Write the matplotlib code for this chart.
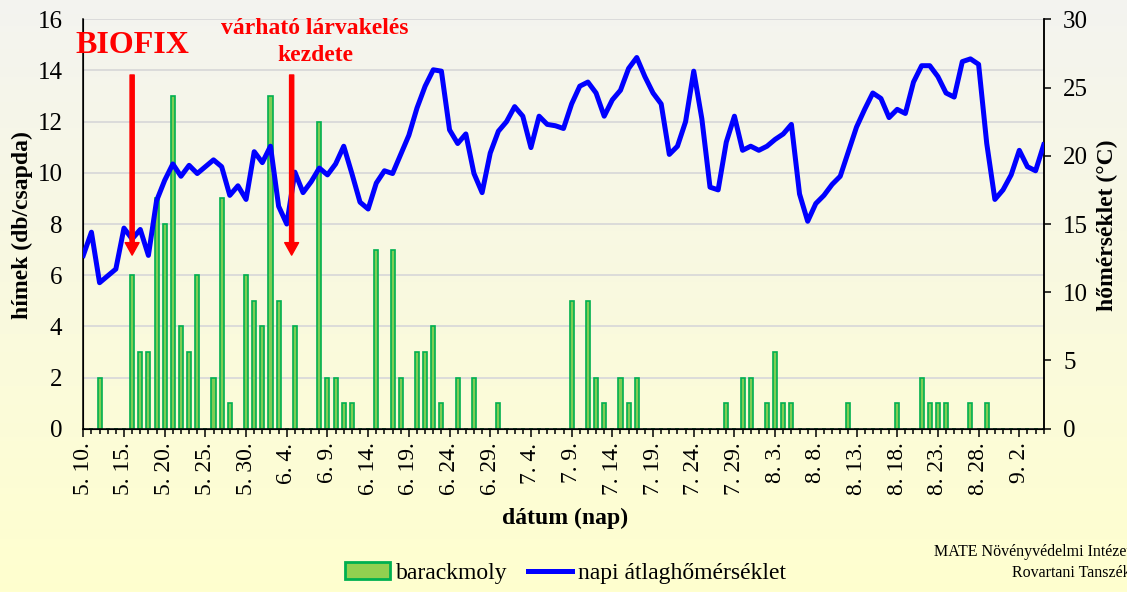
import numpy as np
import pandas as pd
import matplotlib.pyplot as plt
import matplotlib.transforms as mtransforms
from matplotlib.lines import Line2D
from matplotlib.patches import Patch

plt.rcParams['font.family'] = ['Liberation Serif', 'DejaVu Serif']

# napok (5.10 - 9.5)
days = pd.date_range('2023-05-10', '2023-09-05', freq='D')
day_labels = [f'{d.month}. {d.day}.' for d in days]

# barackmoly fogások (db/csapda)
catch_days = ['5.12', '5.16', '5.17', '5.18', '5.19', '5.20', '5.21', '5.22', '5.23', '5.24',
              '5.26', '5.27', '5.28', '5.30', '5.31', '6.1', '6.2', '6.3', '6.5', '6.8',
              '6.9', '6.10', '6.11', '6.12', '6.15', '6.17', '6.18', '6.20', '6.21', '6.22',
              '6.23', '6.25', '6.27', '6.30', '7.9', '7.11', '7.12', '7.13', '7.15', '7.16',
              '7.17', '7.28', '7.30', '7.31', '8.2', '8.3', '8.4', '8.5', '8.12', '8.18',
              '8.21', '8.22', '8.23', '8.24', '8.27', '8.29']
catch_counts = [2, 6, 3, 3, 9, 8, 13, 4, 3, 6,
                2, 9, 1, 6, 5, 4, 13, 5, 4, 12,
                2, 2, 1, 1, 7, 7, 2, 3, 3, 4,
                1, 2, 2, 1, 5, 5, 2, 1, 2, 1,
                2, 1, 2, 2, 1, 3, 1, 1, 1, 1,
                2, 1, 1, 1, 1, 1]

# napi átlaghőmérséklet (°C)
temperature = [12.7, 14.4, 10.7, 11.2, 11.7, 14.7, 13.9, 14.6, 12.7, 16.7,
               18.2, 19.4, 18.5, 19.3, 18.7, 19.2, 19.7, 19.2, 17.1, 17.8,
               16.8, 20.3, 19.5, 20.7, 16.3, 15.0, 18.8, 17.3, 18.1, 19.1,
               18.6, 19.4, 20.7, 18.7, 16.6, 16.1, 18.0, 18.9, 18.7, 20.1,
               21.5, 23.5, 25.1, 26.3, 26.2, 21.9, 20.9, 21.6, 18.7, 17.3,
               20.2, 21.8, 22.5, 23.6, 22.9, 20.6, 22.9, 22.3, 22.2, 22.0,
               23.8, 25.1, 25.4, 24.6, 22.9, 24.1, 24.8, 26.4, 27.2, 25.8,
               24.6, 23.8, 20.1, 20.7, 22.5, 26.2, 22.7, 17.7, 17.5, 21.0,
               22.9, 20.4, 20.7, 20.4, 20.7, 21.2, 21.6, 22.3, 17.2, 15.2,
               16.5, 17.1, 17.9, 18.5, 20.3, 22.1, 23.4, 24.6, 24.2, 22.8,
               23.4, 23.1, 25.4, 26.6, 26.6, 25.8, 24.6, 24.3, 26.9, 27.1,
               26.7, 20.9, 16.8, 17.5, 18.6, 20.4, 19.2, 18.9, 20.8]

biofix_day = '5.16'
larva_pos = 25.6  # a nyíl helye a napok tengelyén

x = np.arange(len(days))
lookup = {f'{d.month}.{d.day}': i for i, d in enumerate(days)}
counts = np.zeros(len(days))
for day, n in zip(catch_days, catch_counts):
    counts[lookup[day]] = n

fig = plt.figure(figsize=(11.27, 5.92), dpi=100)

# háttér színátmenet
bg = fig.add_axes([0, 0, 1, 1], zorder=-1)
top = np.array([0.955, 0.955, 0.94])
bottom = np.array([1.0, 1.0, 0.81])
t = np.linspace(0, 1, 256)[:, None, None]
bg.imshow(top + (bottom - top) * t, aspect='auto', extent=[0, 1, 0, 1])
bg.axis('off')

ax = fig.add_axes([0.0739, 0.2758, 0.8522, 0.6916])
ax.set_facecolor('none')
ax.bar(x, counts, width=0.5, color='#7fcc55', edgecolor='#00b050', linewidth=1.2, zorder=2)
ax.set_xlim(0, len(days) - 1)
ax.set_ylim(0, 16)
ax.set_yticks(range(0, 17, 2))
ax.grid(axis='y', color='#d9d9d9', linewidth=1.3)
ax.set_axisbelow(True)
ax.set_xticks(x[::5])
ax.set_xticklabels(day_labels[::5], rotation=90, fontsize=17)
ax.set_xticks(x, minor=True)
ax.tick_params(axis='x', which='major', length=6, width=1.1, pad=4)
ax.tick_params(axis='x', which='minor', length=3.5, width=1.1)
ax.tick_params(axis='y', length=0, pad=15, labelsize=18)
ax.spines['top'].set_visible(False)
for s in ['left', 'right', 'bottom']:
    ax.spines[s].set_linewidth(1.1)

ax2 = ax.twinx()
ax2.plot(x, temperature, color='#0000ff', linewidth=3.6, zorder=3)
ax2.set_ylim(0, 30)
ax2.set_yticks(range(0, 31, 5))
ax2.tick_params(axis='y', length=5, width=1.1, pad=9, labelsize=18)
ax2.spines['top'].set_visible(False)
ax2.spines['right'].set_linewidth(1.1)

# nyilak és feliratok
trans = mtransforms.blended_transform_factory(ax2.transData, ax2.transAxes)
arrow_style = dict(color='#ff0000', width=3, headwidth=10, headlength=9, shrink=0)
for pos in [lookup[biofix_day], larva_pos]:
    ax2.annotate('', xy=(pos, 0.424), xytext=(pos, 0.864),
                 xycoords=trans, textcoords=trans, arrowprops=arrow_style,
                 annotation_clip=False)
ax2.text(lookup[biofix_day], 0.935, 'BIOFIX', transform=trans, ha='center', va='center',
         color='#ff0000', fontsize=23, fontweight='bold', clip_on=False)
ax2.text(0.2413, 0.9446, 'várható lárvakelés\nkezdete', transform=ax2.transAxes,
         ha='center', va='center', color='#ff0000', fontsize=17, fontweight='bold',
         linespacing=1.35)

fig.text(0.0195, 0.62, 'hímek (db/csapda)', rotation=90, ha='center', va='center',
         fontsize=17, fontweight='bold')
fig.text(0.983, 0.62, 'hőmérséklet (°C)', rotation=90, ha='center', va='center',
         fontsize=17, fontweight='bold')
fig.text(0.5013, 0.125, 'dátum (nap)', ha='center', va='center', fontsize=17, fontweight='bold')

handles = [Patch(facecolor='#92d050', edgecolor='#00b050', linewidth=2),
           Line2D([], [], color='#0000ff', linewidth=3.6)]
fig.legend(handles, ['barackmoly', 'napi átlaghőmérséklet'], loc='center',
           bbox_to_anchor=(0.502, 0.032), ncol=2, frameon=False, fontsize=17,
           handlelength=1.9, handletextpad=0.25, columnspacing=0.85)

# a forrás felirata a jobb szélen (a mintán is le van vágva)
fig.text(1.0035, 0.0676, 'MATE Növényvédelmi Intézet', ha='right', va='center', fontsize=11.5)
fig.text(1.0035, 0.032, 'Rovartani Tanszék', ha='right', va='center', fontsize=11.5)

fig.savefig('out.png', dpi=100)
